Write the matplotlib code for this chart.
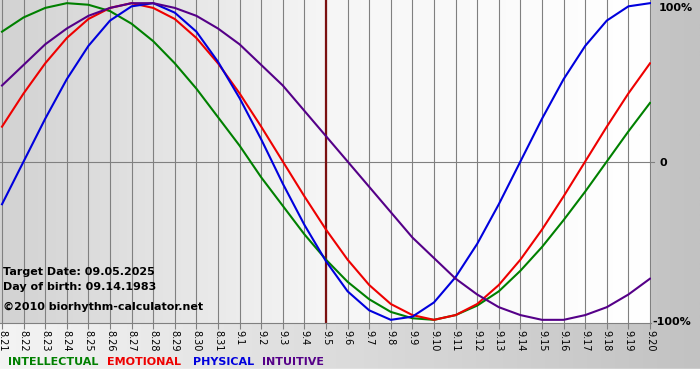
import numpy as np
from matplotlib import pyplot as plt
from matplotlib.colors import LinearSegmentedColormap
from matplotlib.patches import Rectangle

# ---------------- data (one value per day)
days = ["8.21", "8.22", "8.23", "8.24", "8.25", "8.26", "8.27", "8.28", "8.29", "8.30", "8.31",
        "9.1", "9.2", "9.3", "9.4", "9.5", "9.6", "9.7", "9.8", "9.9", "9.10",
        "9.11", "9.12", "9.13", "9.14", "9.15", "9.16", "9.17", "9.18", "9.19", "9.20"]
intellectual = [0.82, 0.91, 0.97, 1.0, 0.99, 0.95, 0.87, 0.76, 0.62, 0.46, 0.28, 0.10, -0.10, -0.28, -0.46, -0.62,
                -0.76, -0.87, -0.95, -0.99, -1.0, -0.97, -0.91, -0.82, -0.69, -0.54, -0.37, -0.19, 0.0, 0.19, 0.37]
emotional = [0.22, 0.43, 0.62, 0.78, 0.90, 0.97, 1.0, 0.97, 0.90, 0.78, 0.62, 0.43, 0.22, 0.0, -0.22, -0.43,
             -0.62, -0.78, -0.90, -0.97, -1.0, -0.97, -0.90, -0.78, -0.62, -0.43, -0.22, 0.0, 0.22, 0.43, 0.62]
physical = [-0.27, 0.0, 0.27, 0.52, 0.73, 0.89, 0.98, 1.0, 0.94, 0.82, 0.63, 0.40, 0.14, -0.14, -0.40, -0.63,
            -0.82, -0.94, -1.0, -0.98, -0.89, -0.73, -0.52, -0.27, 0.0, 0.27, 0.52, 0.73, 0.89, 0.98, 1.0]
intuitive = [0.48, 0.61, 0.74, 0.84, 0.92, 0.97, 1.0, 1.0, 0.97, 0.92, 0.84, 0.74, 0.61, 0.48, 0.32, 0.16,
             0.0, -0.16, -0.32, -0.48, -0.61, -0.74, -0.84, -0.92, -0.97, -1.0, -1.0, -0.97, -0.92, -0.84, -0.74]
target_day = "9.5"
target_date = "09.05.2025"
birth_date = "09.14.1983"
pct_labels = ["100%", "0", "-100%"]

series = [("INTELLECTUAL", intellectual, "#008000"),
          ("EMOTIONAL", emotional, "#ee0000"),
          ("PHYSICAL", physical, "#0000dd"),
          ("INTUITIVE", intuitive, "#550088")]

W, H = 700, 380
fig = plt.figure(figsize=(W/100, H/100), dpi=100)

#--------------------background
bg = fig.add_axes([0, 0, 1, 1], zorder=0)
bg.axis("off")
outer = LinearSegmentedColormap.from_list("outer", ["#f4f4f4", "#c2c2c2"])
bg.imshow(np.linspace(0, 1, 256).reshape(1, -1), cmap=outer, extent=[0, 1, 0, 1], aspect="auto")
bg.add_patch(Rectangle((0, 0), 1, 11/H, color="white", transform=bg.transAxes))
bg.set_xlim(0, 1)
bg.set_ylim(0, 1)

#--------------------plot area
px_day = 21.6
x0, x1 = -2/px_day, 30 + 1/px_day
ax = fig.add_axes([0, 57/H, 651/W, 323/H], zorder=1)
x = np.arange(len(days))
ax.set_xlim(x0, x1)
ax.set_ylim(-1.02, 1.02)
inner = LinearSegmentedColormap.from_list("inner", ["#d2d2d2", "#f6f6f6", "#ffffff"])
ax.imshow(np.linspace(0, 1, 256).reshape(1, -1), cmap=inner, extent=[x0, x1, -1.02, 1.02],
          aspect="auto", zorder=0)

for xi in x:
    ax.axvline(xi, color="#808080", lw=0.8, zorder=1)
ax.axhline(0, color="#808080", lw=0.8, zorder=1)
ax.axvline(days.index(target_day), color="#7a1010", lw=1.6, zorder=2)

for name, vals, col in series:
    ax.plot(x, vals, color=col, lw=1.5, zorder=3)

for s in ["left", "top", "right"]:
    ax.spines[s].set_visible(False)
ax.spines["bottom"].set_color("#808080")
ax.spines["bottom"].set_linewidth(0.8)
ax.set_xticks(x)
ax.set_xticklabels(days, rotation=-90, fontsize=7, family="DejaVu Sans")
ax.tick_params(axis="x", length=4, color="#808080", width=0.8, pad=1)
ax.set_yticks([])
ax.plot([1.0, 1.0 + 3/651], [0, 0], transform=ax.get_yaxis_transform(), color="#808080", lw=0.8, clip_on=False)

# right-hand percent labels
for lbl, lx, ly in zip(pct_labels, [659, 659, 652], [8, 163, 322]):
    fig.text(lx/W, 1 - ly/H, lbl, ha="left", va="center", fontsize=8, fontweight="bold", zorder=5)

#--------------------info text
fig.text(3/W, 1 - 272/H, "Target Date: " + target_date, fontsize=8, fontweight="bold", va="center", zorder=5)
fig.text(3/W, 1 - 287/H, "Day of birth: " + birth_date, fontsize=8, fontweight="bold", va="center", zorder=5)
fig.text(3/W, 1 - 307/H, "\u00a92010 biorhythm-calculator.net", fontsize=8, fontweight="bold", va="center", zorder=5)

# legend words
legend_x = [8, 107, 193, 262]
for (name, vals, col), lx in zip(series, legend_x):
    fig.text(lx/W, 1 - 362/H, name, color=col, fontsize=8, fontweight="bold", va="center", zorder=5)

fig.savefig("out.png", dpi=100)
